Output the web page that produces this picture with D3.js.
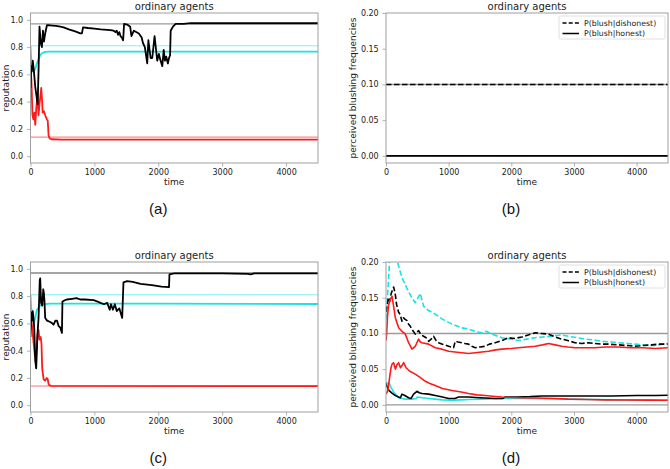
<!DOCTYPE html>
<html>
<head>
<meta charset="utf-8">
<script src="https://cdn.jsdelivr.net/npm/d3@7/dist/d3.min.js"></script>
<style>
  html, body { margin: 0; padding: 0; background: #fff; }
  svg { display: block; }
  text { font-family: "DejaVu Sans", sans-serif; }
</style>
</head>
<body>
<svg id="chart" width="670" height="469"></svg>
<script>
// ---------------- DATA ----------------
const xTicks = [0, 1000, 2000, 3000, 4000];
const repTicks = [0.0, 0.2, 0.4, 0.6, 0.8, 1.0];
const blushTicks = [0.00, 0.05, 0.10, 0.15, 0.20];
const panelLabels = ["(a)", "(b)", "(c)", "(d)"];
const titleText = "ordinary agents";
const legendLabels = ["P(blush|dishonest)", "P(blush|honest)"];

// reference (true) levels
const repRefLevels = [0.97, 0.81, 0.14];          // black(grey), cyan, red
const blushRefLevels = [0.10, 0.00];

// panel (a): reputation [time, value]
const aBlack = [[0,0.50],[10,0.66],[20,0.62],[35,0.70],[50,0.64],[74,0.51],[100,0.42],[112,0.38],[126,0.63],[141,0.95],[160,0.83],[178,0.80],[195,0.92],[210,0.84],[230,0.90],[257,0.96],[300,0.96],[400,0.955],[466,0.95],[518,0.945],[600,0.93],[700,0.915],[780,0.90],[805,0.90],[822,0.945],[900,0.94],[1000,0.935],[1100,0.93],[1250,0.925],[1300,0.92],[1330,0.91],[1350,0.92],[1370,0.89],[1390,0.91],[1410,0.88],[1430,0.87],[1450,0.85],[1465,0.97],[1513,0.965],[1560,0.95],[1580,0.88],[1618,0.92],[1696,0.90],[1740,0.87],[1760,0.83],[1790,0.80],[1827,0.68],[1845,0.85],[1880,0.72],[1906,0.72],[1942,0.88],[1984,0.70],[2010,0.75],[2030,0.71],[2063,0.66],[2085,0.78],[2105,0.70],[2125,0.73],[2150,0.68],[2168,0.72],[2185,0.74],[2194,0.92],[2230,0.95],[2272,0.97],[2400,0.97],[2508,0.975],[4500,0.975]];
const aCyan = [[0,0.81],[10,0.72],[25,0.66],[50,0.62],[75,0.64],[100,0.68],[126,0.71],[150,0.74],[178,0.755],[230,0.765],[300,0.767],[4500,0.767]];
const aRed = [[0,0.65],[15,0.55],[31,0.30],[45,0.27],[60,0.32],[75,0.23],[90,0.35],[110,0.45],[126,0.30],[141,0.38],[168,0.50],[180,0.42],[190,0.32],[210,0.33],[230,0.30],[257,0.27],[270,0.26],[283,0.15],[300,0.13],[330,0.124],[500,0.122],[4500,0.122]];

// panel (b): perceived blushing frequencies
const bDishonest = [[0,0.10],[4500,0.10]];
const bHonest = [[0,0.00],[4500,0.00]];

// panel (c): reputation
const cBlack = [[0,0.50],[10,0.68],[20,0.62],[35,0.69],[47,0.64],[60,0.55],[73,0.33],[89,0.27],[100,0.40],[110,0.52],[126,0.64],[145,0.92],[152,0.93],[165,0.75],[183,0.73],[200,0.85],[210,0.82],[220,0.75],[230,0.64],[260,0.62],[309,0.61],[340,0.60],[361,0.59],[390,0.62],[414,0.62],[440,0.58],[466,0.57],[492,0.53],[500,0.76],[540,0.77],[571,0.775],[650,0.78],[720,0.785],[780,0.775],[850,0.775],[990,0.77],[1050,0.76],[1094,0.75],[1150,0.74],[1200,0.75],[1240,0.70],[1260,0.74],[1290,0.70],[1320,0.74],[1350,0.69],[1390,0.71],[1435,0.64],[1455,0.90],[1513,0.91],[1600,0.905],[1723,0.89],[1900,0.88],[2050,0.87],[2168,0.865],[2175,0.96],[2250,0.966],[3000,0.966],[3400,0.963],[3450,0.96],[3500,0.966],[4500,0.966]];
const cCyan = [[0,0.81],[10,0.72],[30,0.65],[50,0.60],[75,0.64],[100,0.70],[150,0.73],[200,0.74],[300,0.745],[2000,0.745],[4500,0.742]];
const cRed = [[0,0.68],[15,0.62],[30,0.55],[50,0.45],[70,0.36],[90,0.40],[110,0.52],[126,0.55],[140,0.48],[160,0.50],[172,0.45],[183,0.27],[205,0.19],[230,0.18],[255,0.20],[270,0.19],[285,0.15],[320,0.142],[4500,0.14]];

// panel (d): perceived blushing frequencies
const dCyanDishonest = [[0,0.12],[15,0.14],[30,0.16],[50,0.19],[60,0.21],[100,0.22],[150,0.21],[202,0.194],[255,0.178],[300,0.17],[350,0.16],[414,0.15],[467,0.143],[500,0.148],[547,0.156],[600,0.138],[680,0.132],[786,0.127],[900,0.12],[1052,0.113],[1200,0.108],[1317,0.106],[1450,0.102],[1530,0.101],[1600,0.103],[1690,0.099],[1850,0.094],[2000,0.092],[2114,0.09],[2250,0.092],[2380,0.094],[2500,0.095],[2645,0.096],[2800,0.098],[2910,0.096],[3050,0.094],[3177,0.092],[3300,0.091],[3442,0.089],[3600,0.088],[3708,0.087],[3850,0.086],[3973,0.085],[4100,0.084],[4239,0.083],[4350,0.084],[4500,0.086]];
const dBlackDishonest = [[0,0.13],[20,0.14],[40,0.15],[60,0.145],[80,0.155],[100,0.16],[122,0.165],[135,0.16],[149,0.154],[170,0.14],[200,0.13],[228,0.126],[255,0.117],[280,0.122],[300,0.12],[335,0.118],[360,0.113],[388,0.11],[420,0.105],[467,0.099],[520,0.104],[560,0.098],[600,0.096],[640,0.094],[680,0.089],[720,0.092],[760,0.096],[800,0.09],[840,0.087],[900,0.085],[1000,0.082],[1078,0.08],[1105,0.089],[1150,0.088],[1211,0.087],[1260,0.086],[1317,0.085],[1370,0.082],[1424,0.08],[1500,0.081],[1583,0.082],[1650,0.085],[1742,0.087],[1850,0.09],[1955,0.094],[2050,0.093],[2167,0.095],[2280,0.098],[2380,0.101],[2480,0.1],[2592,0.099],[2700,0.095],[2805,0.092],[2900,0.09],[3017,0.087],[3120,0.086],[3230,0.087],[3330,0.086],[3442,0.085],[3550,0.085],[3708,0.084],[3850,0.083],[3973,0.082],[4100,0.083],[4239,0.084],[4350,0.085],[4500,0.085]];
const dRedDishonest = [[0,0.09],[10,0.1],[25,0.125],[42,0.14],[70,0.148],[96,0.152],[122,0.138],[149,0.122],[175,0.115],[202,0.108],[255,0.103],[308,0.099],[361,0.087],[414,0.078],[467,0.082],[520,0.092],[548,0.088],[574,0.087],[680,0.085],[786,0.08],[892,0.078],[1000,0.075],[1100,0.074],[1211,0.073],[1320,0.072],[1424,0.073],[1530,0.074],[1636,0.075],[1750,0.077],[1850,0.078],[2000,0.079],[2114,0.08],[2250,0.081],[2380,0.082],[2500,0.084],[2592,0.086],[2700,0.084],[2805,0.082],[2900,0.081],[3017,0.08],[3150,0.08],[3336,0.08],[3500,0.081],[3700,0.081],[3900,0.08],[4100,0.08],[4300,0.079],[4500,0.08]];
const dRedHonest = [[0,0.015],[30,0.02],[60,0.04],[80,0.052],[96,0.057],[122,0.059],[149,0.05],[175,0.056],[202,0.059],[230,0.052],[255,0.055],[282,0.059],[320,0.052],[380,0.047],[467,0.043],[550,0.038],[627,0.033],[700,0.03],[786,0.027],[900,0.023],[1052,0.02],[1200,0.018],[1317,0.016],[1450,0.014],[1583,0.013],[1700,0.012],[1850,0.011],[2100,0.01],[2400,0.0095],[2700,0.009],[2911,0.008],[3200,0.0075],[3500,0.007],[3800,0.0068],[4200,0.0066],[4500,0.0065]];
const dBlackHonest = [[0,0.03],[20,0.025],[50,0.02],[100,0.016],[149,0.013],[200,0.011],[230,0.01],[255,0.015],[300,0.013],[361,0.01],[400,0.009],[420,0.012],[440,0.015],[494,0.019],[530,0.017],[574,0.016],[680,0.015],[786,0.013],[900,0.011],[1000,0.009],[1100,0.009],[1158,0.011],[1317,0.011],[1500,0.01],[1742,0.009],[1860,0.009],[1902,0.011],[2100,0.011],[2300,0.0115],[2486,0.0125],[2800,0.0125],[3200,0.0125],[3600,0.0125],[4000,0.013],[4300,0.013],[4500,0.0135]];
const dCyanHonest = [[0,0.032],[20,0.03],[50,0.031],[75,0.025],[96,0.022],[122,0.018],[149,0.015],[202,0.01],[255,0.009],[300,0.008],[414,0.008],[480,0.009],[500,0.011],[574,0.01],[680,0.009],[786,0.008],[900,0.007],[1052,0.0065],[1200,0.007],[1317,0.0075],[1500,0.008],[1850,0.009],[2200,0.009],[2600,0.0085],[2911,0.008],[3300,0.0075],[3700,0.007],[4100,0.0068],[4500,0.0065]];

// ---------------- STYLE ----------------
const C_BLACK = "#000", C_CYAN = "#19e3e3", C_RED = "#ff1a1a";
const C_SPINE = "#a0a0a0", C_TEXT = "#222";

const svg = d3.select("#chart");

function panel(opt) {
  const {left, right, top, bottom, yDomain, yTicks, yFmt, ylabel, ylabelX, label} = opt;
  const x = d3.scaleLinear().domain([0, 4500]).range([left, right]);
  const y = d3.scaleLinear().domain(yDomain).range([bottom, top]);
  const g = svg.append("g");
  const clipId = "clip" + label.replace(/\W/g, "");
  svg.append("clipPath").attr("id", clipId).append("rect")
    .attr("x", left).attr("y", top).attr("width", right - left).attr("height", bottom - top);
  const plot = g.append("g").attr("clip-path", `url(#${clipId})`);

  // axes
  const xa = g.append("g").attr("transform", `translate(0,${bottom})`)
    .call(d3.axisBottom(x).tickValues(xTicks).tickFormat(d3.format("d")).tickSize(3.5).tickSizeOuter(0));
  const ya = g.append("g").attr("transform", `translate(${left},0)`)
    .call(d3.axisLeft(y).tickValues(yTicks).tickFormat(d3.format(yFmt)).tickSize(3.5).tickSizeOuter(0));
  [xa, ya].forEach(a => {
    a.select(".domain").remove();
    a.selectAll(".tick line").attr("stroke", C_SPINE).attr("stroke-width", 0.8);
    a.selectAll(".tick text").attr("fill", C_TEXT).style("font-size", "8px");
  });
  ya.selectAll(".tick text").attr("dx", "-0.1em");

  // frame
  g.append("rect").attr("x", left).attr("y", top).attr("width", right - left).attr("height", bottom - top)
    .attr("fill", "none").attr("stroke", C_SPINE).attr("stroke-width", 1);

  // texts
  g.append("text").attr("x", (left + right) / 2).attr("y", top - 3.5).attr("text-anchor", "middle")
    .style("font-size", "10px").attr("fill", C_TEXT).text(titleText);
  g.append("text").attr("x", (left + right) / 2).attr("y", bottom + 22).attr("text-anchor", "middle")
    .style("font-size", "9px").attr("fill", C_TEXT).text("time");
  g.append("text").attr("transform", `translate(${ylabelX},${(top + bottom) / 2}) rotate(-90)`)
    .attr("text-anchor", "middle").style("font-size", "9px").attr("fill", C_TEXT).text(ylabel);
  g.append("text").attr("x", (left + right) / 2 - 16).attr("y", bottom + 51).attr("text-anchor", "middle")
    .style("font-family", "'Liberation Sans', Arial, sans-serif").style("font-size", "15px").attr("fill", "#111").text(label);

  const line = d3.line().x(d => x(d[0])).y(d => y(d[1]));
  const draw = (data, color, width, dash) => plot.append("path").datum(data).attr("d", line)
      .attr("fill", "none").attr("stroke", color).attr("stroke-width", width)
      .attr("stroke-linejoin", "round").attr("stroke-dasharray", dash || null);
  const hline = (v, color, width) => plot.append("line").attr("x1", left).attr("x2", right)
      .attr("y1", y(v)).attr("y2", y(v)).attr("stroke", color).attr("stroke-width", width);
  return {x, y, g, draw, hline};
}

function legend(p, left, top) {
  const g = p.g.append("g");
  g.append("rect").attr("x", left).attr("y", top).attr("width", 106).attr("height", 23)
    .attr("fill", "#fff").attr("fill-opacity", 0.8).attr("stroke", "#d8d8d8").attr("stroke-width", 0.8).attr("rx", 1.5);
  legendLabels.forEach((t, i) => {
    const yy = top + 7 + i * 10.5;
    g.append("line").attr("x1", left + 3.5).attr("x2", left + 20).attr("y1", yy).attr("y2", yy)
      .attr("stroke", C_BLACK).attr("stroke-width", 1.5).attr("stroke-dasharray", i === 0 ? "4,2.2" : null);
    g.append("text").attr("x", left + 25).attr("y", yy + 2.8).style("font-size", "7.8px").attr("fill", C_TEXT).text(t);
  });
}

const TOP1 = 13, BOT1 = 163, TOP2 = 262, BOT2 = 412;
const repDomain = [-0.05, 1.05], blushDomain = [-0.01, 0.2];

// (a)
const pa = panel({left: 30.5, right: 318, top: TOP1, bottom: BOT1, yDomain: repDomain, yTicks: repTicks, yFmt: ".1f", ylabel: "reputation", ylabelX: 9, label: panelLabels[0]});
pa.hline(repRefLevels[0], "#9a9a9a", 1.2);
pa.hline(repRefLevels[1], "#7ff2f2", 1.1);
pa.hline(repRefLevels[2], "#ff8a8a", 1.1);
pa.draw(aCyan, C_CYAN, 1.8);
pa.draw(aRed, C_RED, 1.8);
pa.draw(aBlack, C_BLACK, 1.8);

// (b)
const pb = panel({left: 386, right: 668, top: TOP1, bottom: BOT1, yDomain: blushDomain, yTicks: blushTicks, yFmt: ".2f", ylabel: "perceived blushing frequencies", ylabelX: 356, label: panelLabels[1]});
pb.hline(blushRefLevels[0], "#9a9a9a", 1.4);
pb.hline(blushRefLevels[1], "#9a9a9a", 1.4);
pb.draw(bDishonest, C_BLACK, 1.6, "5.5,2.5");
pb.draw(bHonest, C_BLACK, 1.6);
legend(pb, 559, 16);

// (c)
const pc = panel({left: 30.5, right: 318, top: TOP2, bottom: BOT2, yDomain: repDomain, yTicks: repTicks, yFmt: ".1f", ylabel: "reputation", ylabelX: 9, label: panelLabels[2]});
pc.hline(repRefLevels[0], "#a5a5a5", 2);
pc.hline(repRefLevels[1], "#7ff2f2", 1.1);
pc.hline(repRefLevels[2], "#ffa0a0", 1.5);
pc.draw(cCyan, C_CYAN, 1.8);
pc.draw(cRed, C_RED, 1.8);
pc.draw(cBlack, C_BLACK, 1.8);

// (d)
const pd = panel({left: 386, right: 668, top: TOP2, bottom: BOT2, yDomain: blushDomain, yTicks: blushTicks, yFmt: ".2f", ylabel: "perceived blushing frequencies", ylabelX: 356, label: panelLabels[3]});
pd.hline(blushRefLevels[0], "#9a9a9a", 1.4);
pd.hline(blushRefLevels[1], "#9a9a9a", 1.4);
pd.draw(dCyanDishonest, C_CYAN, 1.6, "5.5,2.5");
pd.draw(dCyanHonest, C_CYAN, 1.6);
pd.draw(dBlackDishonest, C_BLACK, 1.6, "5.5,2.5");
pd.draw(dBlackHonest, C_BLACK, 1.6);
pd.draw(dRedDishonest, C_RED, 1.6);
pd.draw(dRedHonest, C_RED, 1.6);
legend(pd, 559, 265);
</script>
</body>
</html>
